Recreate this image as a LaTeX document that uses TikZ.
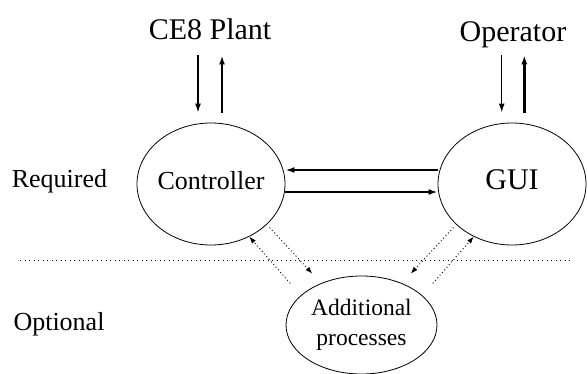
\documentclass[tikz,border=0pt]{standalone}
\usepackage{fontspec}
\setmainfont{Liberation Serif}
\usetikzlibrary{shapes.geometric, arrows.meta, calc}
\tikzset{proc/.style={draw, ellipse, line width=0.8pt, inner xsep=-2pt, inner ysep=0pt, minimum width=148pt, minimum height=122pt},
oneline/.style={text height=14pt, text depth=4pt},
tag/.style={inner sep=0pt, anchor=base},
line/.style={-{Latex[length=9pt,width=6pt]}},
optline/.style={-{Latex[length=7pt,width=5pt]}, line width=0.9pt, dash pattern=on 1pt off 2.5pt}
}

\begin{document}
\begin{tikzpicture}[x=1pt,y=-1pt]
\useasboundingbox (0,0) rectangle (588,374);
\node[proc, oneline, font=\fontsize{26}{30}\selectfont] (ctrl) at (211,184) {Controller};
\node[proc, oneline, font=\fontsize{30}{34}\selectfont] (gui) at (512,184) {GUI};
\node[proc, minimum width=151pt, minimum height=98pt, align=center, font=\fontsize{23.5}{30}\selectfont] (add) at (361.5,325) {Additional\\processes};

\node[tag, font=\fontsize{30}{34}\selectfont] (plant) at (210,40) {CE8 Plant};
\node[tag, font=\fontsize{30}{34}\selectfont] (oper) at (513,41.7) {Operator};
\node[tag, font=\fontsize{26}{30}\selectfont] (req) at (59.5,187) {Required};
\node[tag, font=\fontsize{26}{30}\selectfont] (opt) at (59,330) {Optional};

% required / optional border
\draw[line width=0.9pt, dash pattern=on 1pt off 3.5pt] (20,260.6) -- (572,260.6);

\draw[line, line width=1.5pt, shorten <=15pt, shorten >=10pt] ($(plant.south)+(-12,0)$) -- ($(plant.south |- ctrl.north)+(-12,0)$);
\draw[line, line width=1.8pt, shorten <=10pt, shorten >=15pt] ($(plant.south |- ctrl.north)+(12,0)$) -- ($(plant.south)+(12,0)$);
\draw[line, line width=1.5pt, shorten <=7pt, shorten >=10pt] ($(oper.south)+(-11.3,0)$) -- ($(oper.south |- gui.north)+(-11.3,0)$);
\draw[line, line width=2.6pt, shorten <=10pt, shorten >=7pt] ($(oper.south |- gui.north)+(11.3,0)$) -- ($(oper.south)+(11.3,0)$);

\draw[line, line width=2.8pt] ([yshift=14pt]gui.west) -- ([yshift=14pt]gui.west -| ctrl.east);
\draw[line, line width=1.8pt] ([yshift=-8pt]ctrl.east) -- ([yshift=-8pt]ctrl.east -| gui.west);

%\draw[optline] (ctrl) -- (add);
\draw[optline, shorten <=4pt, shorten >=13pt] (ctrl.-36) -- (add.134);
\draw[optline, shorten <=16pt] (add.154) -- (ctrl.-54);
\draw[optline, shorten <=4pt, shorten >=13pt] (gui.-144) -- (add.46);
\draw[optline, shorten <=16pt] (add.26) -- (gui.-126);
\end{tikzpicture}
\end{document}
